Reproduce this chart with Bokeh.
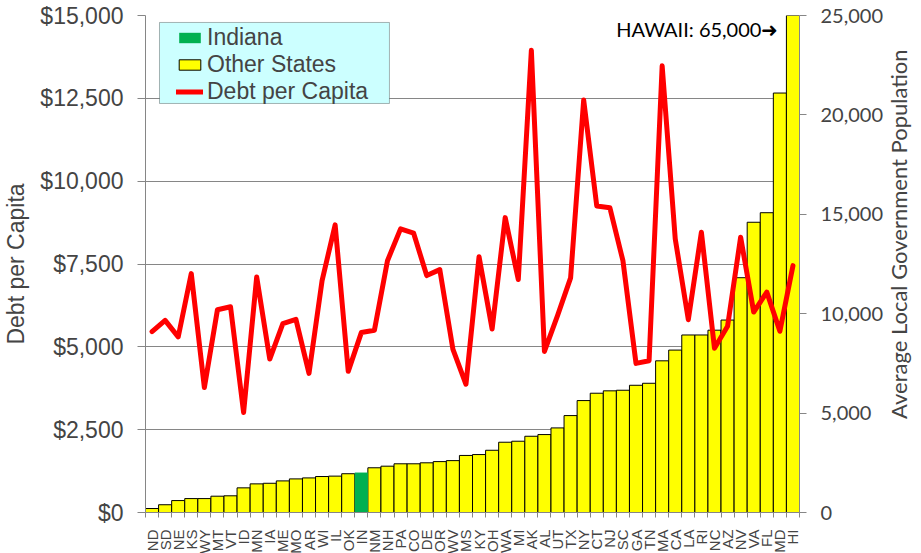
import math
import numpy as np
from bokeh.plotting import figure
from bokeh.models import (Range1d, LinearAxis, FixedTicker, NumeralTickFormatter,
                          ColumnDataSource, Legend, LegendItem, Label, BoxAnnotation)
from bokeh.embed import file_html
from bokeh.resources import INLINE

states = ["ND", "SD", "NE", "KS", "WY", "MT", "VT", "ID", "MN", "IA", "ME", "MO", "AR",
          "WI", "IL", "OK", "IN", "NM", "NH", "PA", "CO", "DE", "OR", "WV", "MS", "KY",
          "OH", "WA", "MI", "AK", "AL", "UT", "TX", "NY", "CT", "NJ", "SC", "GA", "TN",
          "MA", "CA", "LA", "RI", "NC", "AZ", "NV", "VA", "FL", "MD", "HI"]

population = [200, 390, 600, 700, 700, 820, 840, 1240, 1440, 1470, 1590, 1690, 1740,
              1810, 1830, 1950, 2010, 2250, 2330, 2450, 2450, 2500, 2560, 2610, 2870, 2915,
              3130, 3535, 3585, 3835, 3920, 4255, 4875, 5630, 6000, 6120, 6150, 6400, 6500,
              7630, 8170, 8930, 8930, 9170, 9680, 11810, 14600, 15080, 21100, 65000]

debt_per_capita = [5460, 5800, 5300, 7210, 3770, 6120, 6210, 3020, 7110, 4630, 5700, 5830, 4200,
                   7000, 8680, 4260, 5430, 5500, 7600, 8560, 8430, 7150, 7330, 4930, 3870, 7720,
                   5540, 8900, 7030, 13950, 4860, 5940, 7080, 12450, 9250, 9200, 7600, 4500, 4580,
                   13480, 8260, 5820, 8460, 4960, 5620, 8310, 6050, 6650, 5470, 7450]

highlight_state = "IN"
left_ticks = [0, 2500, 5000, 7500, 10000, 12500, 15000]
right_ticks = [0, 5000, 10000, 15000, 20000, 25000]
right_title = "Average Local Government Population"

GRAY = "#868686"
ARIAL = "Liberation Sans"
CAL = "Lato"

xpos = np.arange(1, len(states) + 1)
is_hl = np.array([s == highlight_state for s in states])
pop = np.array(population, dtype=float)

src_other = ColumnDataSource(dict(x=xpos[~is_hl], top=pop[~is_hl]))
src_hl = ColumnDataSource(dict(x=xpos[is_hl], top=pop[is_hl]))
src_line = ColumnDataSource(dict(x=xpos, y=debt_per_capita))

p = figure(frame_width=654, frame_height=497,
           x_range=Range1d(0.5, len(states) + 0.5),
           y_range=Range1d(0, 15000),
           output_backend="svg", toolbar_location=None,
           min_border_left=143, min_border_right=124, min_border_top=15, min_border_bottom=41)
p.outline_line_color = None
p.background_fill_color = "white"
p.border_fill_color = "white"
p.extra_y_ranges = {"pop": Range1d(0, 25000)}

# bars
r_other = p.vbar(x="x", top="top", bottom=0, width=1.0, source=src_other, y_range_name="pop",
                 fill_color="#FFFF00", line_color="black", line_width=1)
r_hl = p.vbar(x="x", top="top", bottom=0, width=1.0, source=src_hl, y_range_name="pop",
              fill_color="#00B050", line_color=None)
r_line = p.line(x="x", y="y", source=src_line, line_color="#FF0000", line_width=5,
                line_join="round", line_cap="round")

# x axis
xa = p.xaxis[0]
xa.ticker = FixedTicker(ticks=list(xpos), minor_ticks=list(np.arange(0.5, len(states) + 1, 1.0)))
xa.major_label_overrides = {int(i): s for i, s in zip(xpos, states)}
xa.major_label_orientation = math.pi / 2
xa.major_tick_out = 0
xa.major_tick_in = 0
xa.minor_tick_out = 5
xa.minor_tick_in = 0
xa.minor_tick_line_color = GRAY
xa.axis_line_color = GRAY
xa.major_label_text_font = ARIAL
xa.major_label_text_font_size = "15px"
xa.major_label_standoff = 12

# left axis
ya = p.yaxis[0]
ya.ticker = FixedTicker(ticks=left_ticks)
ya.formatter = NumeralTickFormatter(format="$0,0")
ya.axis_label = "Debt per Capita"
ya.axis_label_text_font = ARIAL
ya.axis_label_text_font_size = "23px"
ya.axis_label_text_font_style = "normal"
ya.axis_label_standoff = 8
ya.major_label_text_font = ARIAL
ya.major_label_text_font_size = "23px"
ya.major_tick_out = 8
ya.major_tick_in = 0
ya.major_tick_line_color = GRAY
ya.minor_tick_line_color = None
ya.axis_line_color = GRAY
ya.major_label_standoff = 14

# right axis
ra = LinearAxis(y_range_name="pop", ticker=FixedTicker(ticks=right_ticks),
                formatter=NumeralTickFormatter(format="0,0"))
ra.major_label_text_font = CAL
ra.major_label_text_font_size = "20px"
ra.major_tick_out = 7
ra.major_tick_in = 0
ra.major_tick_line_color = GRAY
ra.minor_tick_line_color = None
ra.axis_line_color = GRAY
ra.major_label_standoff = 14
ra.axis_label_text_font = CAL
ra.axis_label_text_font_size = "22px"
ra.axis_label_text_font_style = "normal"
ra.axis_label_standoff = 12
try:
    ra.axis_label_align = "start"
    ra.axis_label_orientation = math.pi / 2
    # em/en spaces lift the upward-reading title so it sits like the original
    ra.axis_label = "\u2003\u2003\u2003\u2003\u2003\u2002" + right_title
except Exception:
    ra.axis_label = right_title
p.add_layout(ra, "right")

p.xgrid.grid_line_color = None
p.ygrid.grid_line_color = GRAY
p.ygrid.grid_line_width = 1
p.ygrid.ticker = FixedTicker(ticks=left_ticks)

# legend box
box = BoxAnnotation(left=1.57, right=19.15, top=14790, bottom=12345,
                    fill_color="#CCFFFF", fill_alpha=1.0, line_color="black", line_width=1)
p.add_layout(box)

legend = Legend(items=[LegendItem(label="Indiana", renderers=[r_hl]),
                       LegendItem(label="Other States", renderers=[r_other]),
                       LegendItem(label="Debt per Capita", renderers=[r_line])],
                location=(31, 407), padding=0, spacing=0, margin=0,
                glyph_width=27, glyph_height=13, label_standoff=4,
                label_text_font=ARIAL, label_text_font_size="23px",
                background_fill_alpha=0, border_line_color=None)
p.add_layout(legend)

note = Label(x=49.5, y=15000, x_offset=-8, y_offset=-13, text="HAWAII: 65,000\u279C",
             text_align="right", text_baseline="middle", text_font=CAL,
             text_font_size="20px", text_color="black")
p.add_layout(note)

open("out.html", "w").write(file_html(p, INLINE))
